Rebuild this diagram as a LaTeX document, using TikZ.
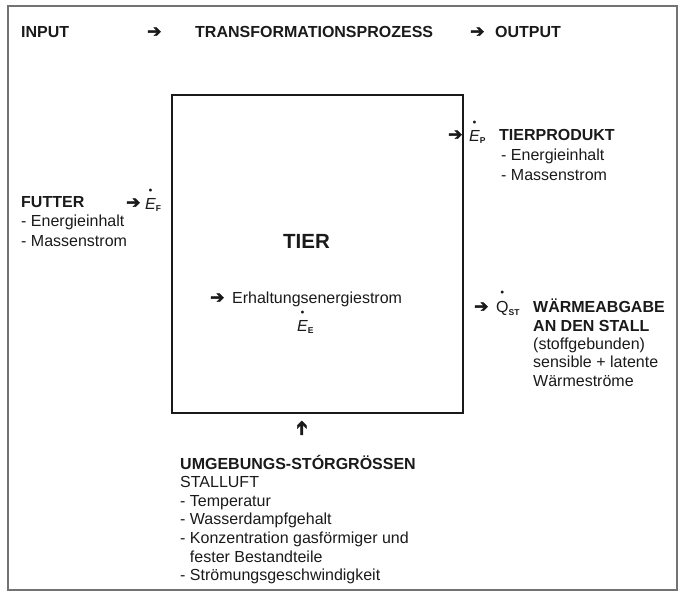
\documentclass[tikz,border=0pt]{standalone}
\usepackage{amsmath}
\usepackage{fontspec}
\setmainfont{Liberation Sans}
\newfontfamily\pfeilfont{DejaVu Sans}[FakeBold=2.5]
\usetikzlibrary{positioning}

% Stromgroesse mit Punkt: \strom{E}{F}
\newcommand{\strom}[2]{$\overset{\raisebox{2.5pt}{\scalebox{0.45}{$\bullet$}}}{\mbox{#1}}_{\mbox{\fontsize{8.5}{8.5}\selectfont\bfseries #2}}$}

\definecolor{tinte}{HTML}{1A1A1A}

\tikzset{
  txt/.style={anchor=base west, inner sep=0pt, align=left, text=tinte,
    font=\fontsize{16}{#1}\selectfont},
  txt/.default=18.6,
  kopf/.style={txt, font=\fontsize{16}{19}\selectfont\bfseries},
  pfeil/.style={anchor=base west, inner sep=0pt, text=tinte,
    font=\fontsize{17}{17}\selectfont\pfeilfont},
  kasten/.style={draw=tinte, line width=2.2pt, minimum width=291pt,
    minimum height=318pt, inner sep=0pt},
  rahmen/.style={draw=black!55, line width=1.2pt}
}

\begin{document}
\begin{tikzpicture}[x=1pt,y=-1pt]
	\useasboundingbox (0,0) rectangle (681,595);
	\draw[rahmen] (8,6) rectangle (677,590);
	
	% Kopfzeile
	\node[kopf] (input) at (21,37) {INPUT};
	\node[pfeil] (p1) at (147,37) {➔};
	\node[kopf] (trans) at (195,37) {TRANSFORMATIONSPROZESS};
	\node[pfeil] (p2) at (470,37) {➔};
	\node[kopf] (output) at (495,37) {OUTPUT};
	
	% Tier
	\node[kasten] (tier) at (317.5,254) {};
	\node[kopf, font=\fontsize{20.5}{20}\selectfont\bfseries] (tiertxt) at (283,248) {TIER};
	\node[pfeil] (pe) at (210,303) {➔};
	\node[txt] (erhalt) at (232,303) {Erhaltungsenergiestrom};
	\node[txt] (ee) at (297,331) {\strom{\itshape E}{E}};
	
	% Input
	\node[txt=19.5] (futter) at (21,246)
		{\textbf{FUTTER}\\- Energieinhalt\\- Massenstrom};
	\node[pfeil] (pf) at (126,208) {➔};
	\node[txt] (ef) at (145,209) {\strom{\itshape E}{F}};
	
	% Output
	\node[pfeil] (pp) at (448,140) {➔};
	\node[txt] (ep) at (469,141) {\strom{\itshape E}{P}};
	\node[txt=20] (produkt) at (499,180)
		{\textbf{TIERPRODUKT}\\\hspace{2pt}- Energieinhalt\\\hspace{2pt}- Massenstrom};
	\node[pfeil] (pq) at (474,312) {➔};
	\node[txt] (qst) at (496,312) {\strom{Q}{ST}};
	\node[txt=18.3] (waerme) at (533,386)
		{\textbf{WÄRMEABGABE}\\\textbf{AN DEN STALL}\\(stoffgebunden)\\sensible + latente\\Wärmeströme};
	
	% Umgebung
	\node[pfeil, rotate=90, anchor=center, font=\fontsize{19}{19}\selectfont\pfeilfont] (pu) at (302.5,428) {➔};
	\node[txt] (umgebung) at (180,580.6)
		{\textbf{UMGEBUNGS-STÓRGRÖSSEN}\\STALLUFT\\- Temperatur\\- Wasserdampfgehalt\\
		- Konzentration gasförmiger und\\\phantom{- }fester Bestandteile\\- Strömungsgeschwindigkeit};
\end{tikzpicture}
\end{document}
